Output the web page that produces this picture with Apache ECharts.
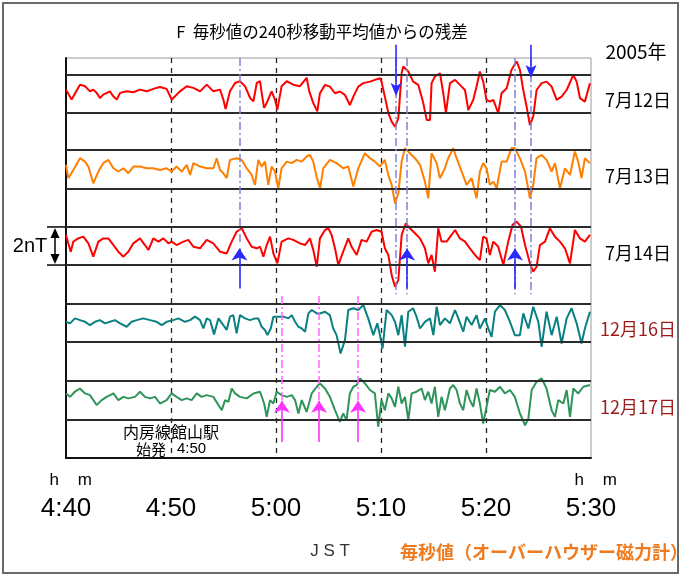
<!DOCTYPE html>
<html>
<head>
<meta charset="utf-8">
<script src="https://cdn.jsdelivr.net/npm/echarts@6/dist/echarts.min.js"></script>
<style>
html, body { margin: 0; padding: 0; background: #fff; }
#main { width: 682px; height: 577px; }
</style>
</head>
<body>
<div id="main"></div>
<script>
// 横軸: 4:40:00 からの秒数, 縦軸: 残差 (nT)
const timeLabels = ['4:40', '4:50', '5:00', '5:10', '5:20', '5:30']
const dayLabels = ['7月12日', '7月13日', '7月14日', '12月16日', '12月17日']
const bandOffsets = [19.14, 15.16, 11.13, 7.11, 3.03] // 各日の基準位置 (nT)

const jul12 = [[0,0.20],[32,-0.32],[80,0.46],[109,0.38],[137,0.11],[156,0.20],[175,0.03],[194,-0.24],[213,-0.06],[251,0.11],[270,-0.15],[290,-0.32],[309,0.03],[347,0.11],[385,0.06],[423,0.20],[461,0.11],[499,0.24],[537,0.34],[575,0.24],[604,-0.32],[623,-0.15],[651,0.11],[690,0.38],[728,0.29],[766,0.11],[804,0.46],[842,0.11],[880,0.20],[899,-0.32],[912,-0.82],[937,0.11],[966,0.55],[994,0.64],[1023,0.38],[1052,-0.24],[1071,-0.41],[1090,0.55],[1109,0.64],[1118,0.03],[1132,-0.76],[1147,-0.50],[1175,0.11],[1194,-0.32],[1208,-0.85],[1232,0.38],[1261,0.64],[1299,0.46],[1337,0.38],[1375,0.82],[1390,0.11],[1413,-0.50],[1436,-0.94],[1451,0.01],[1480,0.45],[1508,0.36],[1537,0.01],[1565,0.10],[1594,-0.08],[1622,-0.61],[1642,-0.17],[1670,0.36],[1699,0.54],[1737,0.62],[1765,0.71],[1794,0.80],[1803,0.62],[1822,-0.17],[1842,-1.04],[1861,-1.48],[1880,-1.75],[1899,-1.31],[1918,1.06],[1927,1.41],[1956,1.15],[1984,0.62],[2013,0.45],[2042,-0.52],[2061,-1.39],[2080,-1.39],[2089,0.54],[2108,0.89],[2137,1.06],[2156,0.01],[2171,-1.04],[2194,0.54],[2223,0.71],[2251,0.45],[2280,0.18],[2299,-0.87],[2327,-0.34],[2346,0.36],[2365,1.15],[2384,0.62],[2403,-0.34],[2422,-0.43],[2442,-0.34],[2470,-1.04],[2489,0.01],[2518,0.27],[2546,1.24],[2575,1.68],[2594,1.24],[2613,0.18],[2632,-0.69],[2651,-1.66],[2670,-1.22],[2689,0.18],[2718,0.54],[2746,0.62],[2775,0.36],[2804,-0.34],[2832,-0.17],[2861,0.18],[2899,0.97],[2918,0.62],[2937,-0.25],[2965,-0.43],[2994,0.54]]

const jul13 = [[0,0.23],[13,-0.47],[42,-0.04],[80,0.58],[109,0.40],[128,0.14],[156,-0.74],[185,-0.12],[213,0.32],[242,0.49],[271,0.05],[299,-0.12],[328,0.05],[356,-0.21],[385,0.14],[423,0.14],[461,0.05],[499,0.05],[537,-0.04],[575,0.05],[604,-0.12],[632,0.14],[661,-0.12],[690,0.23],[709,-0.30],[728,0.32],[766,0.14],[804,0.05],[842,0.05],[861,0.58],[880,-0.04],[899,-0.21],[918,-0.47],[937,0.49],[975,0.58],[1004,0.49],[1033,0.05],[1061,-0.30],[1080,-0.82],[1099,0.49],[1118,0.14],[1137,0.40],[1156,-0.82],[1175,0.14],[1194,-0.12],[1213,-1.00],[1232,0.05],[1261,0.40],[1290,0.32],[1318,0.49],[1347,0.40],[1375,0.67],[1394,0.75],[1413,0.40],[1432,-0.39],[1452,-1.00],[1470,0.05],[1508,0.49],[1546,0.32],[1584,0.05],[1613,0.14],[1642,-0.91],[1670,0.05],[1708,0.84],[1737,0.58],[1765,0.40],[1794,0.14],[1822,0.49],[1842,-0.30],[1861,-0.82],[1880,-1.79],[1899,-1.26],[1918,0.40],[1937,1.11],[1965,0.84],[1994,0.58],[2023,0.23],[2051,-0.65],[2070,-1.53],[2089,0.84],[2118,0.32],[2137,-0.47],[2165,0.05],[2184,0.58],[2213,1.11],[2232,0.58],[2261,-0.12],[2289,-0.82],[2318,-0.47],[2346,-1.53],[2365,-0.12],[2384,0.32],[2403,0.05],[2422,-0.82],[2442,-0.65],[2461,-1.00],[2489,0.40],[2518,0.40],[2546,1.11],[2565,1.11],[2594,0.58],[2623,-0.12],[2651,-1.53],[2670,-0.82],[2689,0.58],[2718,0.75],[2746,0.49],[2775,-0.12],[2794,0.32],[2823,-1.00],[2851,0.05],[2880,-0.30],[2908,0.93],[2927,0.40],[2946,-0.47],[2965,0.58],[2994,0.32]]

const jul14 = [[0,0.58],[13,0.14],[27,-0.30],[42,0.23],[70,0.40],[99,0.49],[128,0.14],[156,-0.56],[185,0.23],[213,0.40],[242,0.40],[271,0.05],[299,-0.30],[328,-0.56],[356,-0.30],[385,0.14],[423,0.40],[451,0.05],[471,-0.21],[499,0.40],[528,0.23],[556,0.40],[585,0.14],[604,0.23],[632,0.05],[671,0.23],[699,0.32],[728,-0.04],[766,-0.12],[804,0.32],[842,0.14],[880,-0.30],[918,-0.39],[947,0.23],[975,0.75],[1004,0.93],[1033,0.40],[1061,-0.04],[1090,-0.12],[1109,-0.04],[1128,-0.56],[1147,0.05],[1166,0.49],[1185,-0.39],[1208,-0.91],[1232,0.23],[1271,0.40],[1299,0.32],[1337,0.14],[1366,0.05],[1394,0.40],[1413,-0.21],[1433,-1.09],[1451,0.40],[1480,0.84],[1499,0.93],[1518,0.58],[1537,-0.12],[1556,-1.00],[1584,-0.30],[1613,0.40],[1632,-0.04],[1661,-0.47],[1689,0.32],[1718,0.23],[1746,0.75],[1775,0.84],[1803,0.75],[1822,-0.12],[1842,-0.47],[1861,-1.53],[1880,-2.14],[1899,-1.79],[1918,0.58],[1942,1.19],[1965,0.93],[1994,0.67],[2023,0.40],[2051,-0.12],[2070,-0.91],[2089,-0.47],[2108,-1.35],[2127,0.93],[2146,0.23],[2175,0.23],[2203,0.58],[2223,0.84],[2251,0.40],[2280,0.23],[2308,-0.12],[2337,-0.47],[2365,-0.74],[2384,0.49],[2403,0.40],[2422,-0.47],[2442,0.23],[2470,-0.04],[2499,-1.00],[2527,0.23],[2552,1.11],[2575,1.28],[2600,1.02],[2623,0.05],[2651,-0.91],[2670,-1.35],[2689,-1.09],[2708,0.05],[2737,0.23],[2765,0.93],[2794,0.49],[2823,0.23],[2851,-0.12],[2880,-0.91],[2908,0.84],[2937,0.40],[2965,0.23],[2994,0.58]]

const dec16 = [[0,0.04],[23,-0.04],[51,0.22],[80,0.13],[109,0.04],[137,-0.13],[166,0.04],[194,0.13],[223,-0.04],[251,0.04],[280,0.13],[309,-0.04],[347,-0.22],[375,0.04],[404,0.13],[442,0.22],[480,0.13],[518,0.04],[547,-0.13],[575,0.04],[613,0.13],[642,0.22],[680,0.04],[709,0.13],[737,0.31],[766,0.13],[785,-0.31],[804,0.22],[823,0.13],[846,-0.62],[871,0.22],[899,-0.13],[918,-0.39],[937,0.31],[956,0.39],[975,-0.57],[994,0.39],[1023,0.22],[1052,0.13],[1080,0.22],[1099,0.22],[1118,-0.22],[1137,-0.39],[1151,-0.66],[1170,-0.31],[1185,0.31],[1213,0.31],[1242,0.31],[1271,0.22],[1290,0.39],[1309,0.04],[1328,-0.22],[1347,-0.31],[1366,-0.48],[1385,0.48],[1404,0.66],[1433,0.48],[1451,0.48],[1480,0.57],[1508,0.39],[1527,-0.31],[1546,-0.66],[1569,-1.62],[1594,-0.92],[1613,0.66],[1642,0.75],[1670,0.66],[1699,0.92],[1727,0.22],[1756,-0.66],[1779,-0.04],[1794,-0.66],[1809,-1.36],[1832,0.66],[1861,0.39],[1880,0.04],[1899,-0.66],[1918,0.39],[1937,-1.27],[1956,0.57],[1984,0.75],[2003,0.31],[2023,-0.31],[2051,0.04],[2080,0.22],[2099,-0.66],[2118,0.83],[2137,-0.13],[2165,0.22],[2194,-0.04],[2223,0.66],[2242,0.22],[2270,-0.48],[2289,0.31],[2318,-0.13],[2346,0.39],[2365,-0.31],[2394,0.22],[2413,-0.31],[2432,-0.75],[2451,0.57],[2480,0.92],[2508,0.66],[2537,0.04],[2565,-0.66],[2594,-0.66],[2613,0.48],[2642,-0.31],[2670,0.83],[2699,0.04],[2718,-1.27],[2746,0.57],[2775,-0.66],[2804,0.31],[2832,-1.10],[2861,0.22],[2889,0.75],[2918,-0.04],[2946,-1.10],[2965,-0.31],[2994,0.57]]

const dec17 = [[0,0.36],[23,0.18],[51,0.45],[80,0.62],[109,0.36],[137,0.27],[175,-0.25],[204,0.01],[232,0.18],[271,0.36],[299,0.01],[328,0.18],[356,0.10],[394,0.18],[423,0.45],[451,0.18],[480,0.10],[509,0.18],[537,-0.17],[575,0.01],[604,0.36],[632,0.18],[661,0.01],[690,0.10],[718,0.01],[747,0.36],[775,0.18],[804,0.27],[842,0.18],[871,-0.25],[890,-0.52],[909,0.01],[928,-0.08],[947,0.62],[966,0.36],[994,0.18],[1033,0.10],[1071,0.36],[1109,0.45],[1132,-0.17],[1147,-0.87],[1166,0.01],[1185,-0.17],[1204,0.45],[1232,0.27],[1261,0.18],[1290,0.27],[1309,0.01],[1328,-0.69],[1347,0.01],[1375,-0.61],[1404,0.36],[1433,0.71],[1451,0.89],[1480,0.62],[1508,0.18],[1537,-0.52],[1565,-1.13],[1584,-0.69],[1603,-1.04],[1622,0.36],[1642,0.71],[1661,0.80],[1680,1.15],[1708,0.89],[1737,0.54],[1765,0.36],[1784,-1.39],[1803,0.01],[1822,-0.52],[1842,0.36],[1861,0.10],[1880,-0.34],[1899,0.71],[1918,-0.17],[1937,0.18],[1956,-1.04],[1975,0.36],[2003,0.45],[2032,0.62],[2051,0.01],[2070,0.45],[2089,-0.17],[2108,0.71],[2127,-0.87],[2146,0.18],[2165,-0.52],[2194,0.62],[2213,0.80],[2232,0.54],[2251,-0.17],[2270,-0.52],[2289,0.54],[2308,0.01],[2327,-0.34],[2346,0.62],[2365,-0.17],[2384,-1.22],[2403,-0.34],[2422,0.54],[2451,0.45],[2480,0.71],[2508,0.36],[2537,0.54],[2565,0.18],[2594,-0.69],[2623,-1.31],[2642,-0.96],[2661,0.54],[2689,0.97],[2718,1.15],[2746,0.62],[2775,-0.52],[2794,-0.87],[2813,0.01],[2842,-0.17],[2861,0.54],[2880,-0.87],[2899,0.62],[2927,0.36],[2956,0.71],[2994,0.80]]

// 注目時刻 (秒)
const blueMarks = [991, 1886, 1949, 2566, 2657]
const downArrows = [1886, 2657] // 7月12日
const upArrows = [991, 1949, 2566] // 7月14日
const pinkMarks = [1234, 1446, 1669] // 12月17日

const traces = [jul12, jul13, jul14, dec16, dec17]
const traceColors = ['#ff0000', '#ff7f00', '#ff0000', '#0a8080', '#2e9459']
const labelColors = ['#000', '#000', '#000', '#9c1a1a', '#9c1a1a']
const numFont = "'Liberation Sans Narrow', 'Liberation Sans', 'Noto Sans CJK JP', sans-serif"
const jpFont = "'Noto Sans CJK JP', sans-serif"

const chart = echarts.init(document.getElementById('main'))

const series = traces.map((d, i) => ({
  type: 'line',
  data: d.map(p => [p[0], p[1] + bandOffsets[i]]),
  showSymbol: false,
  silent: true,
  z: 3,
  lineStyle: { color: traceColors[i], width: 2 }
}))

// 基準帯 (±1nT) の横線
const bandLines = []
bandOffsets.forEach(o => {
  bandLines.push({ yAxis: o + 1 }, { yAxis: o - 1 })
})
series.push({
  type: 'line',
  data: [],
  silent: true,
  markLine: {
    silent: true,
    symbol: 'none',
    label: { show: false },
    lineStyle: { color: '#2b2b2b', width: 2, type: 'solid' },
    data: bandLines
  }
})

// 一点鎖線
const dashDot = []
blueMarks.forEach((t, i) => {
  dashDot.push([{ coord: [t, 21] }, { coord: [t, i === 0 ? 11.2 : 8.6], lineStyle: { color: '#8080d8' } }])
})
pinkMarks.forEach(t => {
  dashDot.push([{ coord: [t, 8.5] }, { coord: [t, 3.0], lineStyle: { color: '#ff66ff' } }])
})
series.push({
  type: 'line',
  data: [],
  silent: true,
  z: 4,
  markLine: {
    silent: true,
    symbol: 'none',
    label: { show: false },
    lineStyle: { width: 1.5, type: [8, 3, 2, 3] },
    data: dashDot
  }
})

// 上向き矢印 (7月14日, 12月17日)
const arrows = []
upArrows.forEach(t => {
  arrows.push([{ coord: [t, 8.9] }, { coord: [t, 11.0], lineStyle: { color: '#2a2aff' }, itemStyle: { color: '#2a2aff' } }])
})
pinkMarks.forEach(t => {
  arrows.push([{ coord: [t, 0.84] }, { coord: [t, 3.0], lineStyle: { color: '#ff33ff' }, itemStyle: { color: '#ff33ff' } }])
})
series.push({
  type: 'line',
  data: [],
  silent: true,
  z: 5,
  markLine: {
    silent: true,
    symbol: ['none', 'arrow'],
    symbolSize: 12,
    label: { show: false },
    lineStyle: { width: 1.6, type: 'solid' },
    data: arrows
  }
})

chart.setOption({
  animation: false,
  backgroundColor: '#fff',
  grid: { left: 66, right: 91, top: 58, bottom: 119, show: true, borderColor: '#9a9a9a', borderWidth: 1 },
  xAxis: {
    type: 'value',
    min: 0,
    max: 3000,
    interval: 600,
    axisLine: { show: true, lineStyle: { color: '#111', width: 2 } },
    axisTick: { show: false },
    splitLine: { show: true, showMinLine: false, showMaxLine: false, lineStyle: { color: '#222', width: 1.3, type: [5, 5] } },
    axisLabel: {
      margin: 9,
      formatter: function (v) {
        const i = Math.round(v / 600)
        const hm = (i === 0 || i === 5) ? '  h    m' : ' '
        return '{hm|' + hm + '}\n{t|' + timeLabels[i] + '}'
      },
      rich: {
        hm: { fontSize: 17, lineHeight: 26, color: '#000', fontFamily: numFont },
        t: { fontSize: 26, lineHeight: 32, color: '#000', fontFamily: numFont }
      }
    }
  },
  yAxis: {
    type: 'value',
    min: 0,
    max: 21,
    axisLine: { show: true, lineStyle: { color: '#111', width: 2 } },
    axisTick: { show: false },
    axisLabel: { show: false },
    splitLine: { show: false }
  },
  series: series
})

// 文字・枠
const toY = v => chart.convertToPixel({ gridIndex: 0 }, [0, v])[1]
const toX = t => chart.convertToPixel({ gridIndex: 0 }, [t, 0])[0]
const graphics = [
  { type: 'rect', shape: { x: 3, y: 3, width: 675, height: 570 }, style: { fill: 'none', stroke: '#6a6a6a', lineWidth: 2 }, silent: true, z: 0 },
  { type: 'text', x: 322, y: 32, style: { text: 'F  毎秒値の240秒移動平均値からの残差', font: '16.5px ' + jpFont, fill: '#000', align: 'center', verticalAlign: 'middle' } },
  { type: 'text', x: 636, y: 52, style: { text: '2005年', font: '19px ' + jpFont, fill: '#000', align: 'center', verticalAlign: 'middle' } },
  { type: 'text', x: 330, y: 551, style: { text: 'J S T', font: '17px ' + numFont, fill: '#333', align: 'center', verticalAlign: 'middle' } },
  { type: 'text', x: 544, y: 552, style: { text: '毎秒値（オーバーハウザー磁力計）', font: 'bold 18px ' + jpFont, fill: '#f07a1e', align: 'center', verticalAlign: 'middle' } },
  { type: 'text', x: 171, y: 432, style: { text: '内房線館山駅', font: '16px ' + jpFont, fill: '#000', align: 'center', verticalAlign: 'middle' } },
  { type: 'text', x: toX(600) - 5, y: 449, style: { text: '始発', font: '15px ' + jpFont, fill: '#000', align: 'right', verticalAlign: 'middle' } },
  { type: 'text', x: toX(600) + 6, y: 449, style: { text: '4:50', font: '15px ' + numFont, fill: '#000', align: 'left', verticalAlign: 'middle' } }
]
dayLabels.forEach((s, i) => {
  graphics.push({ type: 'text', x: 638, y: toY(bandOffsets[i]) + 7, style: { text: s, font: '18px ' + jpFont, fill: labelColors[i], align: 'center', verticalAlign: 'middle' } })
})
// 7月12日の下向き矢印 (枠の上から)
downArrows.forEach((t, i) => {
  const x = toX(t)
  const y0 = toY(21.7)
  const y1 = toY(i === 0 ? 19.0 : 19.95)
  graphics.push(
    { type: 'line', shape: { x1: x, y1: y0, x2: x, y2: y1 - 8 }, style: { stroke: '#2a2aff', lineWidth: 1.6 }, z: 10 },
    { type: 'polygon', shape: { points: [[x, y1], [x - 5.5, y1 - 13], [x, y1 - 10], [x + 5.5, y1 - 13]] }, style: { fill: '#2a2aff' }, z: 10 }
  )
})
// 2nT スケール
const yTop = toY(bandOffsets[2] + 1)
const yBot = toY(bandOffsets[2] - 1)
graphics.push(
  { type: 'text', x: 30, y: (yTop + yBot) / 2, style: { text: '2nT', font: '20px ' + numFont, fill: '#000', align: 'center', verticalAlign: 'middle' } },
  { type: 'line', shape: { x1: 47, y1: yTop, x2: 66, y2: yTop }, style: { stroke: '#000', lineWidth: 1.5 } },
  { type: 'line', shape: { x1: 47, y1: yBot, x2: 66, y2: yBot }, style: { stroke: '#000', lineWidth: 1.5 } },
  { type: 'line', shape: { x1: 55, y1: yTop + 6, x2: 55, y2: yBot - 6 }, style: { stroke: '#000', lineWidth: 1.5 } },
  { type: 'polygon', shape: { points: [[55, yTop + 1], [50.5, yTop + 11], [59.5, yTop + 11]] }, style: { fill: '#000' } },
  { type: 'polygon', shape: { points: [[55, yBot - 1], [50.5, yBot - 11], [59.5, yBot - 11]] }, style: { fill: '#000' } }
)
chart.setOption({ graphic: graphics })
</script>
</body>
</html>
